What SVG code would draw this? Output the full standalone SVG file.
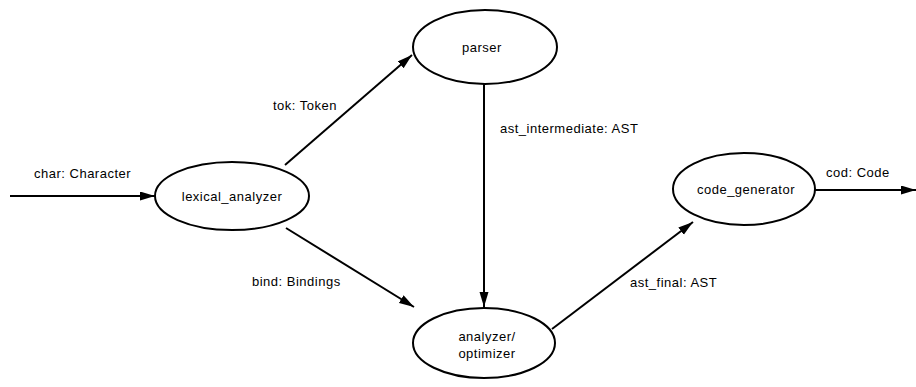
<svg xmlns="http://www.w3.org/2000/svg" width="916" height="387" viewBox="0 0 916 387">
<defs>
<marker id="arrow" markerUnits="userSpaceOnUse" markerWidth="16" markerHeight="10" refX="15" refY="4.5" orient="auto">
<path d="M0,0 L15,4.5 L0,9 Z" fill="#000"/>
</marker>
<style>
.node ellipse{fill:#fff;stroke:#000;stroke-width:2}
.node text{font-family:"Liberation Sans",Arial,sans-serif;font-size:13px;letter-spacing:0.5px;text-anchor:middle;fill:#000}
.edge{stroke:#000;stroke-width:2;fill:none;marker-end:url(#arrow)}
.lbl{font-family:"Liberation Sans",Arial,sans-serif;font-size:13px;letter-spacing:0.5px;fill:#000}
</style>
</defs>
<rect width="916" height="387" fill="#fff"/>
<g id="connectors">
<line class="edge" x1="10" y1="196" x2="155" y2="196"/>
<line class="edge" x1="285" y1="165" x2="412" y2="55"/>
<line class="edge" x1="286" y1="228" x2="414" y2="307"/>
<line class="edge" x1="484" y1="84" x2="484" y2="307"/>
<line class="edge" x1="552" y1="329" x2="693" y2="222"/>
<line class="edge" x1="815" y1="190" x2="916" y2="190"/>
<text class="lbl" x="34" y="178">char: Character</text>
<text class="lbl" x="273" y="110">tok: Token</text>
<text class="lbl" x="252" y="286">bind: Bindings</text>
<text class="lbl" x="500" y="133">ast_intermediate: AST</text>
<text class="lbl" x="630" y="287">ast_final: AST</text>
<text class="lbl" x="826" y="177">cod: Code</text>
</g>
<g id="lexical_analyzer" class="node">
<ellipse cx="232" cy="196" rx="77" ry="34"/>
<text x="232" y="201">lexical_analyzer</text>
</g>
<g id="parser" class="node">
<ellipse cx="485" cy="47" rx="72" ry="37"/>
<text x="482" y="52">parser</text>
</g>
<g id="analyzer_optimizer" class="node">
<ellipse cx="484" cy="343" rx="71" ry="35"/>
<text x="487" y="341">analyzer/</text>
<text x="487" y="358">optimizer</text>
</g>
<g id="code_generator" class="node">
<ellipse cx="744" cy="189" rx="71" ry="36"/>
<text x="746" y="194">code_generator</text>
</g>
</svg>
